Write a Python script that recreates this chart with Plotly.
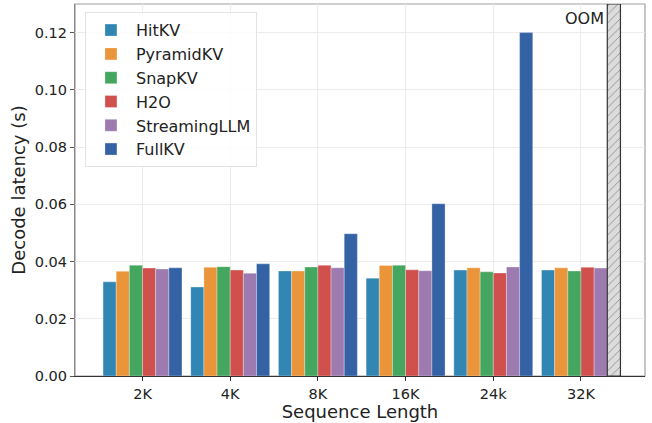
import plotly.graph_objects as go

categories = ["2K", "4K", "8K", "16K", "24k", "32K"]
methods = ["HitKV", "PyramidKV", "SnapKV", "H2O", "StreamingLLM", "FullKV"]
hitkv = [0.0329, 0.0311, 0.0367, 0.0342, 0.0370, 0.0370]
pyramidkv = [0.0366, 0.0380, 0.0367, 0.0386, 0.0378, 0.0378]
snapkv = [0.0387, 0.0382, 0.0381, 0.0387, 0.0364, 0.0367]
h2o = [0.0377, 0.0370, 0.0387, 0.0371, 0.0360, 0.0380]
streamingllm = [0.0374, 0.0359, 0.0378, 0.0368, 0.0381, 0.0377]
fullkv = [0.0378, 0.0392, 0.0497, 0.0602, 0.1200, None]  # None = OOM
y_max = 0.13
oom_label = "OOM"

colors = ["#3286b4", "#ea9539", "#45a660", "#d0504d", "#9d7bb0", "#3462a5"]
series = [hitkv, pyramidkv, snapkv, h2o, streamingllm, fullkv]

fig = go.Figure()
for name, vals, col in zip(methods, series, colors):
    if name == "FullKV":
        yv = [v if v is not None else y_max for v in vals]
        mcol = [col if v is not None else "#dcdcdc" for v in vals]
        pshape = ["" if v is not None else "/" for v in vals]
        lcol = ["rgba(255,255,255,0.5)" if v is not None else "#333333" for v in vals]
        lw = [0.6 if v is not None else 1.2 for v in vals]
        fig.add_trace(go.Bar(
            x=categories, y=yv, name=name,
            marker=dict(color=mcol, line=dict(color=lcol, width=lw),
                        pattern=dict(shape=pshape, fgcolor="#333333", size=6, solidity=0.15)),
        ))
    else:
        fig.add_trace(go.Bar(
            x=categories, y=vals, name=name,
            marker=dict(color=col, line=dict(color="rgba(255,255,255,0.5)", width=0.6)),
        ))

font = "DejaVu Sans"
oom_idx = fullkv.index(None)
fig.add_annotation(x=oom_idx + 0.29, y=0.1249, xref="x", yref="y", text=oom_label,
                   showarrow=False, xanchor="right", yanchor="middle",
                   font=dict(size=16, color="#222222", family=font))

fig.update_layout(
    width=652, height=423,
    margin=dict(l=75, r=7, t=4, b=47),
    barmode="group", bargap=0.1, bargroupgap=0,
    paper_bgcolor="white", plot_bgcolor="white",
    font=dict(family=font, size=14.5, color="#222222"),
    legend=dict(x=0.0175, y=0.978, xanchor="left", yanchor="top",
                bgcolor="rgba(255,255,255,0.85)", bordercolor="#e3e3e3", borderwidth=1,
                font=dict(size=16, family=font, color="#222222"), itemwidth=40),
    xaxis=dict(type="category", range=[-0.77, 5.73],
               title=dict(text="Sequence Length", font=dict(size=18, family=font), standoff=2),
               showgrid=True, gridcolor="#ececec", gridwidth=1,
               showline=True, linecolor="#333333", linewidth=1.2,
               ticks="outside", ticklen=4, tickcolor="#333333",
               tickfont=dict(size=14.5, family=font)),
    yaxis=dict(range=[0, y_max], tickvals=[0, 0.02, 0.04, 0.06, 0.08, 0.10, 0.12],
               tickformat=".2f",
               title=dict(text="Decode latency (s)", font=dict(size=18, family=font), standoff=4),
               showgrid=True, gridcolor="#ececec", gridwidth=1,
               showline=True, linecolor="#8a8484", linewidth=1.2,
               ticks="outside", ticklen=4, tickcolor="#555555",
               tickfont=dict(size=14.5, family=font), zeroline=False),
    shapes=[dict(type="rect", xref="paper", yref="paper", x0=0, x1=1, y0=0, y1=1,
                 line=dict(color="#a0a0a0", width=1.2), layer="below")],
)

fig.write_html("out.html", config={"displayModeBar": False},
               post_script="document.body.style.margin='0';")
